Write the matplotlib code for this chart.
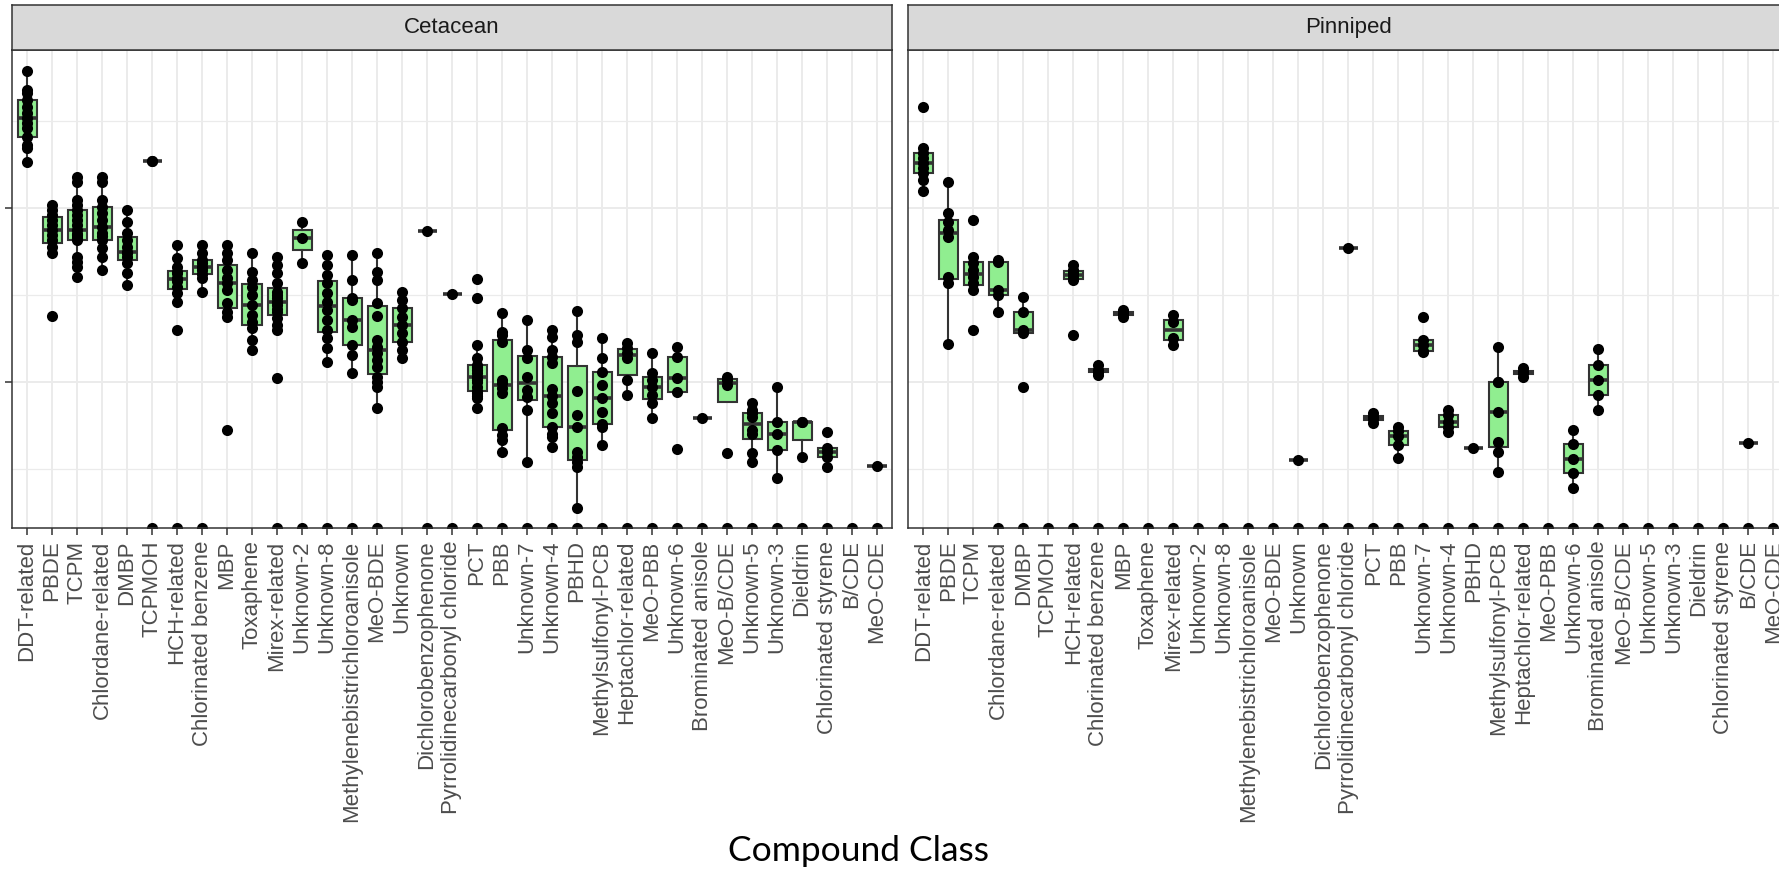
import numpy as np
import matplotlib
matplotlib.use("Agg")
import matplotlib.pyplot as plt

# compound classes, in plotting order (same for both facets)
categories = ["DDT-related", "PBDE", "TCPM", "Chlordane-related", "DMBP", "TCPMOH",
              "HCH-related", "Chlorinated benzene", "MBP", "Toxaphene", "Mirex-related",
              "Unknown-2", "Unknown-8", "Methylenebistrichloroanisole", "MeO-BDE", "Unknown",
              "Dichlorobenzophenone", "Pyrrolidinecarbonyl chloride", "PCT", "PBB",
              "Unknown-7", "Unknown-4", "PBHD", "Methylsulfonyl-PCB", "Heptachlor-related",
              "MeO-PBB", "Unknown-6", "Brominated anisole", "MeO-B/CDE", "Unknown-5",
              "Unknown-3", "Dieldrin", "Chlorinated styrene", "B/CDE", "MeO-CDE"]

# log10 concentrations of detected samples, per compound class
cet_values = [
    [2.264, 2.345, 2.362, 2.408, 2.460, 2.489, 2.517, 2.546, 2.580, 2.621, 2.661, 2.678, 2.787],
    [1.379, 1.741, 1.776, 1.816, 1.845, 1.874, 1.902, 1.931, 1.960, 1.989, 2.017],
    [1.603, 1.661, 1.690, 1.718, 1.816, 1.83, 1.845, 1.85, 1.874, 1.902, 1.931, 1.960, 1.989,
     2.017, 2.046, 2.149, 2.178],
    [1.644, 1.718, 1.770, 1.816, 1.84, 1.856, 1.891, 1.931, 1.971, 2.006, 2.046, 2.149, 2.178],
    [1.557, 1.626, 1.684, 1.72, 1.741, 1.75, 1.776, 1.816, 1.856, 1.920, 1.989],
    [2.272, 2.272],
    [1.299, 1.460, 1.511, 1.546, 1.58, 1.586, 1.60, 1.626, 1.63, 1.661, 1.713, 1.787],
    [1.517, 1.598, 1.62, 1.644, 1.66, 1.684, 1.70, 1.741, 1.787],
    [0.724, 1.374, 1.402, 1.454, 1.529, 1.569, 1.598, 1.644, 1.701, 1.741, 1.787],
    [1.184, 1.241, 1.310, 1.345, 1.385, 1.443, 1.500, 1.546, 1.586, 1.632, 1.741],
    [1.023, 1.299, 1.328, 1.368, 1.402, 1.42, 1.44, 1.460, 1.48, 1.50, 1.517, 1.569, 1.626,
     1.672, 1.718],
    [1.684, 1.828, 1.920],
    [1.115, 1.195, 1.253, 1.299, 1.356, 1.414, 1.460, 1.511, 1.569, 1.615, 1.672, 1.730],
    [1.052, 1.155, 1.21, 1.316, 1.356, 1.47, 1.483, 1.586, 1.730],
    [0.851, 0.971, 1.0, 1.029, 1.086, 1.126, 1.167, 1.201, 1.241, 1.38, 1.454, 1.586, 1.632, 1.741],
    [1.138, 1.184, 1.230, 1.282, 1.328, 1.374, 1.425, 1.471, 1.517],
    [1.868],
    [1.506],
    [0.851, 0.908, 0.92, 0.937, 0.95, 0.971, 1.0, 1.011, 1.03, 1.052, 1.07, 1.086, 1.10, 1.138,
     1.213, 1.483, 1.592],
    [0.598, 0.667, 0.695, 0.736, 0.937, 0.966, 0.994, 1.011, 1.230, 1.270, 1.287, 1.397],
    [0.540, 0.839, 0.914, 0.954, 1.029, 1.138, 1.184, 1.356],
    [0.626, 0.684, 0.70, 0.74, 0.822, 0.879, 0.92, 0.96, 1.109, 1.144, 1.184, 1.259, 1.299],
    [0.276, 0.511, 0.540, 0.569, 0.598, 0.741, 0.810, 0.95, 1.230, 1.270, 1.408],
    [0.638, 0.741, 0.76, 0.828, 0.908, 0.983, 1.057, 1.138, 1.253],
    [0.925, 1.011, 1.138, 1.167, 1.195, 1.224],
    [0.793, 0.879, 0.925, 0.971, 1.011, 1.052, 1.167],
    [0.615, 0.943, 1.023, 1.144, 1.201],
    [0.793],
    [0.592, 0.983, 1.011, 1.029],
    [0.540, 0.592, 0.70, 0.724, 0.799, 0.82, 0.839, 0.879],
    [0.448, 0.609, 0.70, 0.770, 0.971],
    [0.569, 0.770, 0.770],
    [0.511, 0.569, 0.598, 0.62, 0.713],
    [],
    [0.517],
]

pin_values = [
    [2.098, 2.161, 2.201, 2.230, 2.259, 2.287, 2.316, 2.345, 2.580],
    [1.218, 1.569, 1.603, 1.833, 1.874, 1.920, 1.971, 2.149],
    [1.299, 1.529, 1.569, 1.603, 1.644, 1.684, 1.718, 1.931],
    [1.402, 1.500, 1.529, 1.69, 1.701],
    [0.971, 1.282, 1.30, 1.402, 1.489],
    [],
    [1.270, 1.586, 1.60, 1.615, 1.630, 1.644, 1.672],
    [1.040, 1.06, 1.07, 1.098],
    [1.374, 1.39, 1.40, 1.414],
    [],
    [1.213, 1.253, 1.345, 1.385],
    [], [], [], [],
    [0.552],
    [],
    [1.770],
    [0.764, 0.79, 0.80, 0.822],
    [0.563, 0.638, 0.69, 0.72, 0.741],
    [1.172, 1.18, 1.213, 1.24, 1.374],
    [0.713, 0.741, 0.77, 0.81, 0.839],
    [0.621],
    [0.483, 0.598, 0.655, 0.828, 1.0, 1.0, 1.201],
    [1.029, 1.05, 1.06, 1.080],
    [],
    [0.391, 0.477, 0.557, 0.644, 0.724],
    [0.839, 0.925, 1.011, 1.098, 1.190],
    [], [], [], [], [],
    [0.649],
    [],
]

# 1 = class has non-detects (zero -> drawn on the lower panel edge)
cet_nondetect = [0, 0, 0, 0, 0, 1, 1, 1, 0, 0, 1, 1, 1, 1, 1, 0, 1, 1, 1, 1,
                 1, 1, 1, 1, 1, 1, 1, 1, 1, 1, 1, 1, 1, 1, 1]
pin_nondetect = [0, 0, 0] + [1] * 32

facets = ["Cetacean", "Pinniped"]

plt.rcParams["font.family"] = ["Liberation Sans", "DejaVu Sans"]

W, H = 1779, 874
fig = plt.figure(figsize=(W / 100, H / 100), dpi=100)

grid_col = "#EBEBEB"
line_col = "#333333"
ylo, yhi = 0.161, 2.908
panel_w = 880
panel_top, panel_bot = 50, 528
strip_top = 5
lefts = [12, 908.3]

x = np.arange(len(categories))

for k, (name, values, nd) in enumerate(zip(facets, [cet_values, pin_values],
                                          [cet_nondetect, pin_nondetect])):
    ax = fig.add_axes([lefts[k] / W, 1 - panel_bot / H, panel_w / W,
                       (panel_bot - panel_top) / H])
    ax.set_xlim(-0.6, len(categories) - 0.4)
    ax.set_ylim(ylo, yhi)

    ax.set_yticks([1, 2])
    ax.set_yticks([0.5, 1.5, 2.5], minor=True)
    ax.set_yticklabels([])
    ax.set_xticks(x)
    ax.set_xticklabels(categories, rotation=90, fontsize=16, color="#4D4D4D")
    ax.set_axisbelow(True)
    ax.grid(which="major", color=grid_col, linewidth=1.4)
    ax.grid(which="minor", axis="y", color=grid_col, linewidth=0.9)
    ax.tick_params(axis="x", length=5, width=1.1, color=line_col, pad=4)
    ax.tick_params(axis="y", which="major", length=5 if k == 0 else 0,
                   width=1.1, color=line_col)
    ax.tick_params(axis="y", which="minor", length=0)
    for sp in ax.spines.values():
        sp.set_color(line_col)
        sp.set_linewidth(1.1)
        sp.set_zorder(5)

    # boxes from detected values only
    pos = [i for i in x if len(values[i]) > 0]
    data = [values[i] for i in pos]
    ax.boxplot(data, positions=pos, widths=0.76, whis=1.5, patch_artist=True,
               showfliers=False, showcaps=False, manage_ticks=False,
               boxprops=dict(facecolor="#90EE90", edgecolor=line_col, linewidth=1.5),
               whiskerprops=dict(color=line_col, linewidth=1.5),
               medianprops=dict(color=line_col, linewidth=2.6), zorder=2)

    # individual samples
    px = [i for i in pos for _ in values[i]]
    py = [v for i in pos for v in values[i]]
    ax.scatter(px, py, s=64, color="black", linewidths=0, zorder=3)

    # non-detects sit on the lower edge
    zx = [i for i in x if nd[i]]
    ax.scatter(zx, [ylo] * len(zx), s=64, color="black", linewidths=0, zorder=3)

    # facet strip
    sax = fig.add_axes([lefts[k] / W, 1 - panel_top / H, panel_w / W,
                        (panel_top - strip_top) / H])
    sax.set_facecolor("#D9D9D9")
    sax.set_xticks([])
    sax.set_yticks([])
    for sp in sax.spines.values():
        sp.set_color(line_col)
        sp.set_linewidth(1.1)
    sax.text(0.5, 0.5, name, ha="center", va="center", fontsize=16,
             color="#1A1A1A", transform=sax.transAxes)

fig.text(859 / W, 1 - 851 / H, "Compound Class", ha="center", va="center",
         fontsize=25.5, color="black", family=["Lato", "DejaVu Sans"])

fig.savefig("out.png", dpi=100)
